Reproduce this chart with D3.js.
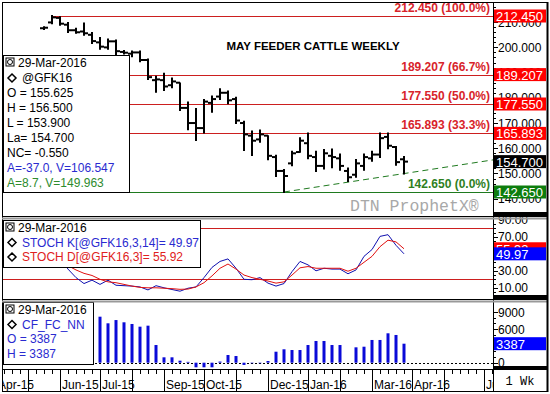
<!DOCTYPE html>
<html>
<head>
<meta charset="utf-8">
<script src="https://cdn.jsdelivr.net/npm/d3@7"></script>
<style>
body { margin: 0; background: #fff; }
text { font-family: "Liberation Sans", Arial, sans-serif; }
</style>
</head>
<body>
<svg id="chart" width="550" height="394"></svg>
<script>
// weekly bars, GFK16 (May feeder cattle)
const dates = ["2015-05-19","2015-05-26","2015-06-02","2015-06-09","2015-06-16","2015-06-23","2015-06-30",
  "2015-07-07","2015-07-14","2015-07-21","2015-07-28","2015-08-04","2015-08-11","2015-08-18","2015-08-25",
  "2015-09-01","2015-09-08","2015-09-15","2015-09-22","2015-09-29","2015-10-06","2015-10-13","2015-10-20",
  "2015-10-27","2015-11-03","2015-11-10","2015-11-17","2015-11-24","2015-12-01","2015-12-08","2015-12-15",
  "2015-12-22","2015-12-29","2016-01-05","2016-01-12","2016-01-19","2016-01-26","2016-02-02","2016-02-09",
  "2016-02-16","2016-02-23","2016-03-01","2016-03-08","2016-03-15","2016-03-22","2016-03-29"];
const open  = [207.6,209.9,211.7,209.0,206.8,206.3,205.0,202.0,200.0,202.4,198.2,197.5,198.0,195.0,187.0,
  187.0,185.0,186.0,176.0,170.0,168.0,178.0,180.5,182.0,179.5,170.0,165.0,163.5,165.0,156.5,151.0,
  154.0,158.5,162.0,156.5,153.0,157.0,156.0,151.0,149.5,153.0,156.0,157.5,164.5,160.5,155.625];
const high  = [208.0,212.45,212.0,209.7,207.4,209.5,205.7,203.7,203.1,202.7,198.6,198.4,198.4,195.2,188.4,
  189.5,187.7,185.7,178.1,175.6,179.1,180.5,183.4,182.5,180.0,170.5,166.6,167.0,164.8,157.0,151.4,
  158.6,164.0,165.9,158.6,159.3,159.5,157.5,152.0,155.3,157.5,158.6,165.9,165.9,160.5,156.5];
const low   = [207.3,209.6,209.0,206.1,205.8,205.0,201.7,199.5,199.5,197.4,197.6,196.5,194.5,187.5,182.4,
  183.1,184.2,175.2,167.5,163.3,166.2,174.5,179.5,177.8,170.0,159.3,157.3,162.6,155.6,149.0,142.65,
  153.3,158.6,156.0,151.0,152.0,152.5,151.5,147.0,148.7,151.5,155.0,156.5,160.0,153.5,150.0];
const close = [207.8,211.9,209.4,206.8,206.0,205.6,202.5,200.3,202.4,198.5,197.9,198.0,195.0,188.2,187.3,
  184.5,186.5,176.0,170.0,168.0,178.5,179.5,182.0,179.0,171.0,165.5,163.0,165.5,157.0,151.0,149.0,
  158.0,163.0,157.0,153.0,158.0,156.5,153.0,148.5,154.0,156.5,157.5,164.0,161.0,154.5,154.7];

const stochK = [60,55,45,32,22,15,19,14,19,13,12.5,12,11,7.5,12.5,10,8,6,9.5,11,22,34,41,44,33,20,19.5,22,
  15.5,12,15,29,41,37,30,33,32,32,26.5,31,47,55,70.5,72.5,60,49.97];
const stochD = [62,58,50,36,31,27,24.5,20,17,16,14,12,10.5,10,10,9.5,9,8.2,8.5,11,16,24,33,38,32,25,22,20,
  18,15.5,17,25,33.5,35,33,33,33,33,29.5,33,40,47,58.4,66,64,55.92];

// CF_FC_NN weekly values (first bars hidden under the legend box)
const cot = [null,null,null,null,null,null,null,8200,7020,7600,7200,6900,6420,6600,3150,960,960,360,150,
  -820,-820,-820,200,1370,1190,-400,-100,-100,300,1960,2390,2260,2260,3150,3870,3870,3150,3150,null,
  2740,2850,4050,4050,5240,4940,3387];

const fibLevels = [212.45, 189.207, 177.55, 165.893, 142.65];
const fibPct = ["100.0%", "66.7%", "50.0%", "33.3%", "0.0%"];
const trendSlope = 0.4875; // per week, green trendline from the Dec low
const priceTicks = [140, 150, 160, 170, 180, 190, 200, 210];
const stochTicks = [10, 30, 50, 70, 90];
const cotTicks = [0, 3000, 6000, 9000];

const svg = d3.select("#chart");
const plotL = 3, plotR = 493, axR = 547;
const pP = {top: 3, bottom: 215};
const pS = {top: 220, bottom: 298};
const pV = {top: 301, bottom: 368};
const red = "#cc1f1f", green = "#1f7a1f";

const parse = d3.timeParse("%Y-%m-%d");
const bars = dates.map((d, i) => ({date: parse(d), o: open[i], h: high[i], l: low[i], c: close[i],
  k: stochK[i], dd: stochD[i], v: cot[i]}));

const x = d3.scaleTime().domain([bars[0].date, bars[bars.length - 1].date]).range([44, 404]);
const y = d3.scaleLinear().domain([142.65, 212.45]).range([192, 16]);
const yS = d3.scaleLinear().domain([20, 80]).range([279.3, 228.3]);
const yV = d3.scaleLinear().domain([0, 9000]).range([362.7, 312.2]);

svg.append("rect").attr("width", 550).attr("height", 394).attr("fill", "#fff");

const defs = svg.append("defs");
[["clipP", pP], ["clipS", pS], ["clipV", pV]].forEach(([id, p]) => {
  defs.append("clipPath").attr("id", id).append("rect")
    .attr("x", plotL).attr("y", p.top).attr("width", plotR - plotL).attr("height", p.bottom - p.top);
});

// ---------- price panel ----------
const gP = svg.append("g").attr("clip-path", "url(#clipP)");

gP.selectAll(".fib").data(fibLevels).join("line")
  .attr("x1", x(bars[1].date)).attr("x2", plotR)
  .attr("y1", d => Math.round(y(d)) + 0.5).attr("y2", d => Math.round(y(d)) + 0.5)
  .attr("stroke", (d, i) => i == fibLevels.length - 1 ? green : red).attr("stroke-width", 1);

gP.selectAll(".fibLab").data(fibLevels).join("text")
  .attr("x", 490).attr("y", d => y(d) - 4)
  .attr("text-anchor", "end").attr("font-size", 12).attr("font-weight", "bold")
  .attr("fill", (d, i) => i == fibLevels.length - 1 ? "#2f7f1f" : "#d8232a")
  .text((d, i) => d3.format(".3f")(d) + " (" + fibPct[i] + ")");

// trendline from the low
const lowBar = bars[30];
const lastDate = d3.timeWeek.offset(bars[45].date, 12);
gP.append("line")
  .attr("x1", x(lowBar.date)).attr("y1", y(lowBar.l))
  .attr("x2", x(lastDate)).attr("y2", y(lowBar.l + trendSlope * 27))
  .attr("stroke", green).attr("stroke-width", 1).attr("stroke-dasharray", "6,4");

gP.append("text").attr("x", 313).attr("y", 50).attr("text-anchor", "middle")
  .attr("font-size", 11.5).attr("font-weight", "bold").text("MAY FEEDER CATTLE WEEKLY");

gP.append("text").attr("x", 350).attr("y", 211)
  .style("font-family", "'Liberation Mono', monospace").attr("font-size", 16.5)
  .attr("fill", "#a8a8a8").text("DTN ProphetX®");

const barG = gP.selectAll(".bar").data(bars).join("g").attr("stroke", "#000").attr("stroke-width", 2);
barG.append("path").attr("d", d => `M${Math.round(x(d.date))},${y(d.h) - 1}V${y(d.l) + 1}`);
barG.append("path").attr("d", d => `M${Math.round(x(d.date)) - 4},${y(d.o)}H${Math.round(x(d.date))}`);
barG.append("path").attr("d", d => `M${Math.round(x(d.date))},${y(d.c)}H${Math.round(x(d.date)) + 4}`);

// ---------- stochastic panel ----------
const gS = svg.append("g").attr("clip-path", "url(#clipS)");
gS.selectAll(".lvl").data([80, 20]).join("line")
  .attr("x1", plotL).attr("x2", plotR)
  .attr("y1", d => Math.round(yS(d)) + 0.5).attr("y2", d => Math.round(yS(d)) + 0.5)
  .attr("stroke", red);
gS.append("path").datum(bars)
  .attr("d", d3.line().x(d => x(d.date)).y(d => yS(d.k)))
  .attr("fill", "none").attr("stroke", "#1010b0").attr("stroke-width", 1);
gS.append("path").datum(bars)
  .attr("d", d3.line().x(d => x(d.date)).y(d => yS(d.dd)))
  .attr("fill", "none").attr("stroke", "#e01010").attr("stroke-width", 1);

// ---------- CF_FC_NN panel ----------
const gV = svg.append("g").attr("clip-path", "url(#clipV)");
gV.append("line").attr("x1", plotL).attr("x2", plotR)
  .attr("y1", Math.round(yV(0)) + 0.5).attr("y2", Math.round(yV(0)) + 0.5)
  .attr("stroke", "#000").attr("stroke-dasharray", "2,2");
gV.selectAll(".vb").data(bars.filter(d => d.v != null)).join("rect")
  .attr("x", d => Math.round(x(d.date)) - 1.5).attr("width", 3)
  .attr("y", d => yV(Math.max(0, d.v))).attr("height", d => Math.abs(yV(d.v) - yV(0)))
  .attr("fill", "#0a0ad8");

// ---------- legend boxes ----------
function icon(g, bx, by) {
  g.append("rect").attr("x", bx).attr("y", by).attr("width", 8).attr("height", 8)
    .attr("fill", "none").attr("stroke", "#000");
  g.append("circle").attr("cx", bx + 4).attr("cy", by + 4).attr("r", 2.5)
    .attr("fill", "none").attr("stroke", "#000");
}
function diamond(g, cx, cy) {
  g.append("path").attr("d", `M${cx},${cy - 4}L${cx + 4},${cy}L${cx},${cy + 4}L${cx - 4},${cy}Z`)
    .attr("fill", "none").attr("stroke", "#000").attr("stroke-width", 1.5);
}
function legend(bx, by, w, h, lines) {
  const g = svg.append("g");
  g.append("rect").attr("x", bx + 0.5).attr("y", by + 0.5).attr("width", w).attr("height", h)
    .attr("fill", "#fff").attr("stroke", "#000");
  lines.forEach((l, i) => {
    const ty = by + 12 + i * l.step;
    if (l.icon) icon(g, bx + 3, ty - 9);
    if (l.diamond) diamond(g, bx + 9, ty - 4);
    g.append("text").attr("x", bx + l.dx).attr("y", ty).attr("font-size", 12)
      .attr("fill", l.color || "#000").text(l.t);
  });
}
legend(3, 55, 126, 137, [
  {t: "29-Mar-2016", dx: 15, icon: true, step: 15},
  {t: "@GFK16", dx: 19, diamond: true, step: 15},
  {t: "O = 155.625", dx: 4, step: 15},
  {t: "H = 156.500", dx: 4, step: 15},
  {t: "L = 153.900", dx: 4, step: 15},
  {t: "La= 154.700", dx: 4, step: 15},
  {t: "NC= -0.550", dx: 4, step: 15},
  {t: "A=-37.0, V=106.547", dx: 4, color: "#2a2ad0", step: 15},
  {t: "A=8.7, V=149.963", dx: 4, color: "#2e8b2e", step: 15}
]);
legend(3, 220, 197, 47, [
  {t: "29-Mar-2016", dx: 15, icon: true, step: 14.5},
  {t: "STOCH K[@GFK16,3,14]= 49.97", dx: 19, diamond: true, color: "#2a2ad0", step: 14.5},
  {t: "STOCH D[@GFK16,3]= 55.92", dx: 19, diamond: true, color: "#e02020", step: 14.5}
]);
legend(3, 302, 90, 62, [
  {t: "29-Mar-2016", dx: 15, icon: true, step: 14.5},
  {t: "CF_FC_NN", dx: 19, diamond: true, color: "#2a2ad0", step: 14.5},
  {t: "O = 3387", dx: 4, color: "#2a2ad0", step: 14.5},
  {t: "H = 3387", dx: 4, color: "#2a2ad0", step: 14.5}
]);

// ---------- right axes ----------
function rightAxis(scale, ticks, minor, fmt, p) {
  const g = svg.append("g").attr("transform", `translate(${plotR},0)`);
  g.selectAll(".mn").data(minor.filter(v => scale(v) > p.top && scale(v) < p.bottom)).join("line")
    .attr("x1", 0).attr("x2", 3).attr("y1", d => Math.round(scale(d)) + 0.5).attr("y2", d => Math.round(scale(d)) + 0.5)
    .attr("stroke", "#000");
  g.selectAll(".mj").data(ticks.filter(v => scale(v) > p.top && scale(v) < p.bottom)).join("line")
    .attr("x1", 0).attr("x2", 5).attr("y1", d => Math.round(scale(d)) + 0.5).attr("y2", d => Math.round(scale(d)) + 0.5)
    .attr("stroke", "#000");
  g.selectAll("text").data(ticks.filter(v => scale(v) > p.top - 4 && scale(v) < p.bottom + 4)).join("text")
    .attr("x", 5).attr("y", d => scale(d) + 4.5).attr("font-size", 12).text(fmt);
}
rightAxis(y, priceTicks, d3.range(140, 218, 2), d3.format(".3f"), pP);
rightAxis(yS, stochTicks, d3.range(5, 95, 5), d3.format(".2f"), pS);
rightAxis(yV, cotTicks, d3.range(0, 10000, 1000), d => d, pV);

function valueBox(v, scale, fill, label) {
  const cy = scale(v);
  svg.append("rect").attr("x", plotR + 1).attr("y", cy - 6.5).attr("width", axR - plotR - 2).attr("height", 13)
    .attr("fill", fill);
  svg.append("text").attr("x", plotR + 3).attr("y", cy + 5).attr("font-size", 13).attr("fill", "#fff")
    .text(label);
}
fibLevels.forEach((v, i) => valueBox(v, y, i == fibLevels.length - 1 ? "#0d7d0d" : "#ff0000", d3.format(".3f")(v)));
valueBox(close[close.length - 1], y, "#000", d3.format(".3f")(close[close.length - 1]));
valueBox(stochD[stochD.length - 1], yS, "#ff0000", d3.format(".2f")(stochD[stochD.length - 1]));
valueBox(stochK[stochK.length - 1], yS, "#0000ff", d3.format(".2f")(stochK[stochK.length - 1]));
valueBox(cot[cot.length - 1], yV, "#0000ff", cot[cot.length - 1]);

// ---------- date axis ----------
const axTop = 369;
const gX = svg.append("g");
defs.append("clipPath").attr("id", "clipX").append("rect")
  .attr("x", plotL).attr("y", axTop).attr("width", plotR - plotL).attr("height", 392 - axTop);
const gXc = gX.append("g").attr("clip-path", "url(#clipX)");
const weeks = d3.timeTuesday.range(new Date(2015, 3, 1), new Date(2016, 6, 1));
gXc.selectAll(".wt").data(weeks).join("line")
  .attr("x1", d => Math.round(x(d)) + 0.5).attr("x2", d => Math.round(x(d)) + 0.5)
  .attr("y1", axTop).attr("y2", axTop + 5).attr("stroke", "#000");
const months = d3.timeMonth.range(new Date(2015, 3, 1), new Date(2016, 6, 1)).map(m => d3.timeTuesday.ceil(m));
gXc.selectAll(".ms").data(months).join("line")
  .attr("x1", d => Math.round(x(d)) + 0.5).attr("x2", d => Math.round(x(d)) + 0.5)
  .attr("y1", axTop).attr("y2", 392).attr("stroke", "#000");
let lastEnd = -100;
months.forEach(m => {
  const mx = Math.round(x(m));
  if (mx < lastEnd - 2) return;
  const t = gXc.append("text").attr("x", mx + 2).attr("y", 389).attr("font-size", 12)
    .text(d3.timeFormat("%b-%y")(m));
  lastEnd = mx + 2 + t.node().getComputedTextLength();
});

// ---------- frames and separators ----------
const fr = svg.append("g").attr("fill", "none");
fr.append("rect").attr("x", 2.5).attr("y", 2.5).attr("width", axR - 2).attr("height", 389).attr("stroke", "#000");
fr.append("line").attr("x1", plotR + 0.5).attr("x2", plotR + 0.5).attr("y1", 2).attr("y2", 392).attr("stroke", "#000");
[pP.bottom, pS.bottom].forEach(b => {
  fr.append("line").attr("x1", 2).attr("x2", axR).attr("y1", b + 1.5).attr("y2", b + 1.5).attr("stroke", "#000");
  fr.append("line").attr("x1", 2).attr("x2", axR).attr("y1", b + 3.5).attr("y2", b + 3.5).attr("stroke", "#999").attr("stroke-width", 2);
  fr.append("rect").attr("x", plotR).attr("y", b - 3).attr("width", axR - plotR).attr("height", 5).attr("fill", "#000");
});
fr.append("line").attr("x1", 2).attr("x2", axR).attr("y1", axTop + 0.5).attr("y2", axTop + 0.5).attr("stroke", "#000");
fr.append("rect").attr("x", plotR).attr("y", axTop - 3).attr("width", axR - plotR).attr("height", 4).attr("fill", "#000");
fr.append("line").attr("x1", axR + 0.5).attr("x2", axR + 0.5).attr("y1", 2).attr("y2", 392).attr("stroke", "#000").attr("stroke-width", 2);

svg.append("text").attr("x", 520).attr("y", 385).attr("text-anchor", "middle")
  .style("font-family", "'Liberation Mono', monospace").attr("font-size", 12).text("1 Wk");
</script>
</body>
</html>
